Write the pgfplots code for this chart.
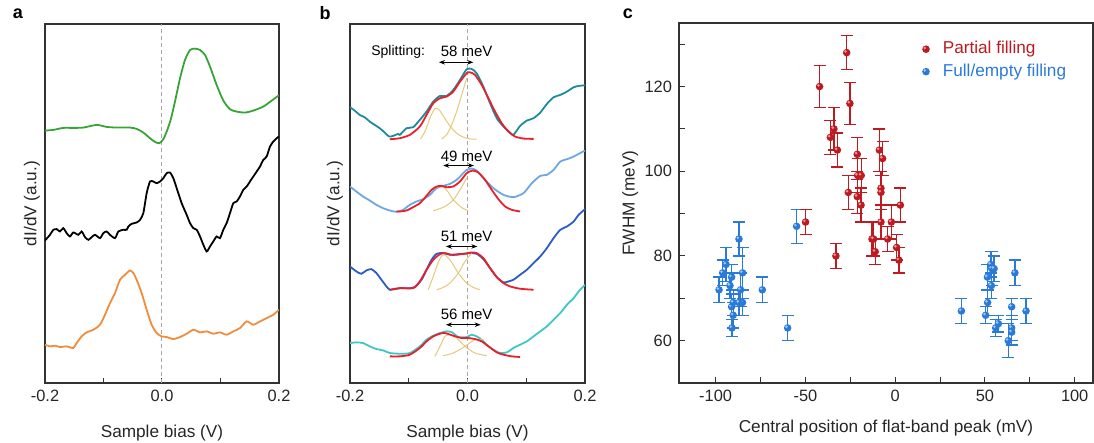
\documentclass[border=0pt]{standalone}
\usepackage{fontspec}
\setmainfont{Liberation Sans}
\usepackage{pgfplots}
\pgfplotsset{compat=1.18}
\usetikzlibrary{arrows.meta}

\definecolor{cgreen}{HTML}{36A536}
\definecolor{corange}{HTML}{F08C3C}
\definecolor{cteal}{HTML}{1C8C98}
\definecolor{clblue}{HTML}{6EA8E2}
\definecolor{cdblue}{HTML}{2A5CC6}
\definecolor{cturq}{HTML}{3EC8C4}
\definecolor{cfit}{HTML}{E8202C}
\definecolor{cgauss}{HTML}{E6C87A}
\definecolor{cpart}{HTML}{BE1A20}
\definecolor{cfull}{HTML}{2A7AD8}

% filled dot with a small light spot, like a shaded sphere
\pgfdeclareplotmark{sph}{%
  \pgfpathcircle{\pgfpointorigin}{\pgfplotmarksize}\pgfusepath{fill}%
  \begin{pgfscope}
    \pgfsetfillcolor{white}\pgfsetfillopacity{0.55}%
    \pgfpathcircle{\pgfpoint{-0.32\pgfplotmarksize}{0.32\pgfplotmarksize}}{0.38\pgfplotmarksize}%
    \pgfusepath{fill}%
  \end{pgfscope}
}

\pgfplotsset{
  frame/.style={
    scale only axis,
    tick align=inside,
    tick style={black!80, line width=0.5pt},
    axis line style={black!80, line width=0.6pt},
    every tick label/.append style={font=\fontsize{8.2}{9}\selectfont, text=black!85},
    label style={font=\fontsize{8.6}{10}\selectfont, text=black!85},
  },
  spec/.style={
    frame, width=117pt, height=179.5pt,
    xmin=-0.2, xmax=0.2, ymin=0, ymax=1078,
    xtick={-0.2,-0.1,0,0.1,0.2}, xticklabels={-0.2,,0.0,,0.2},
    ytick=\empty, xtick pos=left, major tick length=2.5pt,
    xlabel={Sample bias (V)},
    xlabel style={at={(axis description cs:0.5,0)}, anchor=center, yshift=-25pt},
    ylabel={dI/dV (a.u.)},
  },
  curve/.style={line width=0.9pt, smooth, tension=0.4, no marks},
  gauss/.style={line width=0.5pt, cgauss, smooth, no marks},
  zero/.style={gray!70, dashed, dash pattern=on 2pt off 1.5pt, line width=0.5pt, no marks},
  dots/.style={only marks, mark=sph, mark size=1.9pt, mark options={fill=#1, draw=none}, forget plot,
    error bars/.cd, y dir=both, y explicit,
    error bar style={#1, line width=0.7pt},
    error mark options={rotate=90, mark size=3pt, #1, line width=0.7pt}},
  keyimg/.style={only marks, mark=sph, mark size=1.9pt, mark options={fill=#1, draw=none}},
}

\begin{document}
\begin{tikzpicture}
\path[use as bounding box] (0,0) rectangle (547pt,-221.5pt);

\node[font=\bfseries\fontsize{9}{9}\selectfont] at (9pt,-7pt) {a};
\node[font=\bfseries\fontsize{9}{9}\selectfont] at (162.5pt,-6.5pt) {b};
\node[font=\bfseries\fontsize{9}{9}\selectfont] at (314pt,-7pt) {c};

% ---------- panel a ----------
\begin{axis}[spec, at={(22.5pt,-191.5pt)}, anchor=south west,
  ylabel style={at={(axis description cs:-0.056,0.5)}, anchor=center}]
\addplot[zero] coordinates {(0,0) (0,1078)};
\addplot[curve, cgreen] coordinates {
(-0.2000,758) (-0.1858,760) (-0.1687,766) (-0.1516,766) (-0.1345,767) (-0.1117,775)
(-0.0946,769) (-0.0775,767) (-0.0547,767) (-0.0433,763) (-0.0319,752) (-0.0205,735)
(-0.0120,724) (-0.0046,720) (0.0023,732) (0.0080,755) (0.0148,790) (0.0222,845)
(0.0308,915) (0.0393,970) (0.0479,1000) (0.0564,1004) (0.0650,1000) (0.0735,985)
(0.0821,950) (0.0934,895) (0.1048,848) (0.1162,822) (0.1276,815) (0.1419,812)
(0.1561,818) (0.1732,830) (0.1875,848) (0.2000,864)};
\addplot[curve, black] coordinates {
(-0.2000,428) (-0.1915,445) (-0.1858,460) (-0.1801,462) (-0.1744,455) (-0.1687,465)
(-0.1630,450) (-0.1573,440) (-0.1516,452) (-0.1430,445) (-0.1373,455) (-0.1316,438)
(-0.1259,430) (-0.1202,438) (-0.1145,445) (-0.1060,435) (-0.1003,450) (-0.0946,455)
(-0.0889,445) (-0.0803,435) (-0.0746,455) (-0.0661,460) (-0.0604,460) (-0.0575,470)
(-0.0519,478) (-0.0433,482) (-0.0376,490) (-0.0319,510) (-0.0262,570) (-0.0205,605)
(-0.0148,605) (-0.0091,600) (-0.0034,605) (0.0023,615) (0.0080,630) (0.0137,632)
(0.0194,615) (0.0251,585) (0.0336,540) (0.0422,505) (0.0479,480) (0.0536,465)
(0.0593,460) (0.0650,440) (0.0707,415) (0.0764,395) (0.0821,410) (0.0877,425)
(0.0934,440) (0.0991,435) (0.1048,460) (0.1105,480) (0.1162,510) (0.1219,540)
(0.1276,545) (0.1333,560) (0.1390,580) (0.1447,590) (0.1504,605) (0.1561,620)
(0.1618,635) (0.1675,650) (0.1732,670) (0.1789,680) (0.1846,710) (0.1903,725)
(0.1960,735) (0.2000,740)};
\addplot[curve, corange] coordinates {
(-0.2000,115) (-0.1915,110) (-0.1829,112) (-0.1744,108) (-0.1630,110) (-0.1516,105)
(-0.1459,120) (-0.1373,140) (-0.1288,152) (-0.1174,160) (-0.1060,175) (-0.0974,205)
(-0.0889,240) (-0.0803,270) (-0.0718,310) (-0.0632,325) (-0.0547,338) (-0.0490,330)
(-0.0433,310) (-0.0348,270) (-0.0262,220) (-0.0177,175) (-0.0091,150) (-0.0006,140)
(0.0080,138) (0.0194,132) (0.0308,138) (0.0422,148) (0.0536,160) (0.0650,152)
(0.0764,155) (0.0877,148) (0.0991,152) (0.1105,145) (0.1219,155) (0.1333,165)
(0.1447,185) (0.1561,175) (0.1675,185) (0.1789,195) (0.1903,205) (0.2000,220)};
\end{axis}

% ---------- panel b ----------
\begin{axis}[spec, width=117.5pt, at={(175pt,-191.5pt)}, anchor=south west,
  ylabel style={at={(axis description cs:-0.064,0.5)}, anchor=center}]
\addplot[zero] coordinates {(0,0) (0,1078)};
% group 1
\addplot[curve, cteal] coordinates {
(-0.2000,828) (-0.1920,818) (-0.1835,805) (-0.1750,798) (-0.1664,785) (-0.1579,775)
(-0.1494,765) (-0.1408,752) (-0.1334,740) (-0.1266,742) (-0.1181,748) (-0.1152,745)
(-0.1038,765) (-0.0925,768) (-0.0811,790) (-0.0697,815) (-0.0583,845) (-0.0469,862)
(-0.0356,862) (-0.0242,880) (-0.0128,910) (-0.0014,942) (0.0071,943) (0.0156,930)
(0.0270,890) (0.0384,840) (0.0498,795) (0.0612,770) (0.0725,752) (0.0782,745)
(0.0896,772) (0.1010,788) (0.1124,795) (0.1238,812) (0.1351,838) (0.1465,858)
(0.1579,865) (0.1693,875) (0.1807,888) (0.1892,892) (0.2000,894)};
\addplot[gauss] coordinates {
(-0.0799,733) (-0.0725,755) (-0.0640,795) (-0.0583,817) (-0.0538,825) (-0.0481,820)
(-0.0413,802) (-0.0299,772) (-0.0185,750) (-0.0071,738) (0.0043,733) (0.0156,732)};
\addplot[gauss] coordinates {
(-0.0441,733) (-0.0356,745) (-0.0270,775) (-0.0185,815) (-0.0100,865) (-0.0014,915)};
\addplot[curve, cfit] coordinates {
(-0.1323,732) (-0.1152,735) (-0.0982,745) (-0.0811,770) (-0.0697,805) (-0.0583,840)
(-0.0469,855) (-0.0356,860) (-0.0242,875) (-0.0128,905) (-0.0014,930) (0.0043,933)
(0.0128,925) (0.0242,895) (0.0356,855) (0.0469,815) (0.0583,780) (0.0697,755)
(0.0811,740) (0.0953,734) (0.1124,733)};
% group 2
\addplot[curve, clblue] coordinates {
(-0.2000,590) (-0.1892,575) (-0.1778,560) (-0.1664,548) (-0.1550,535) (-0.1437,525)
(-0.1323,518) (-0.1209,514) (-0.1095,520) (-0.0982,535) (-0.0868,545) (-0.0754,552)
(-0.0640,565) (-0.0526,585) (-0.0413,592) (-0.0299,598) (-0.0185,610) (-0.0100,625)
(-0.0014,640) (0.0071,644) (0.0156,638) (0.0270,615) (0.0441,585) (0.0612,565)
(0.0782,558) (0.0953,570) (0.1095,600) (0.1238,622) (0.1351,625) (0.1465,640)
(0.1579,665) (0.1693,672) (0.1807,680) (0.1892,688) (0.2000,698)};
\addplot[gauss] coordinates {
(-0.0612,578) (-0.0526,588) (-0.0441,590) (-0.0356,580) (-0.0242,550) (-0.0100,527) (0.0014,517)};
\addplot[gauss] coordinates {
(-0.0583,517) (-0.0384,530) (-0.0242,550) (-0.0128,580) (-0.0014,615)};
\addplot[curve, cfit] coordinates {
(-0.1209,515) (-0.1152,515) (-0.1038,518) (-0.0925,528) (-0.0811,540) (-0.0697,562)
(-0.0612,580) (-0.0526,590) (-0.0441,592) (-0.0356,588) (-0.0242,590) (-0.0128,605)
(-0.0014,630) (0.0088,638) (0.0185,632) (0.0299,610) (0.0413,580) (0.0526,552)
(0.0640,530) (0.0754,520) (0.0896,515)};
% group 3
\addplot[curve, cdblue] coordinates {
(-0.2000,350) (-0.1892,335) (-0.1807,328) (-0.1721,338) (-0.1636,342) (-0.1550,330)
(-0.1465,310) (-0.1380,290) (-0.1323,280) (-0.1238,282) (-0.1124,285) (-0.1010,284)
(-0.0896,288) (-0.0782,310) (-0.0697,340) (-0.0612,370) (-0.0526,388) (-0.0413,390)
(-0.0299,385) (-0.0185,385) (-0.0071,388) (0.0043,390) (0.0156,388) (0.0270,372)
(0.0384,345) (0.0498,318) (0.0612,302) (0.0697,305) (0.0782,310) (0.0896,325)
(0.1010,340) (0.1124,360) (0.1238,380) (0.1351,405) (0.1465,435) (0.1579,460)
(0.1693,470) (0.1807,485) (0.1892,505) (0.2000,522)};
\addplot[gauss] coordinates {
(-0.0669,280) (-0.0583,320) (-0.0498,362) (-0.0413,385) (-0.0299,370) (-0.0156,330)
(-0.0014,300) (0.0100,287) (0.0213,280)};
\addplot[gauss] coordinates {
(-0.0526,280) (-0.0413,287) (-0.0299,300) (-0.0156,330) (-0.0043,365) (0.0071,390)};
\addplot[curve, cfit] coordinates {
(-0.1323,280) (-0.1152,285) (-0.0925,285) (-0.0811,305) (-0.0697,340) (-0.0583,370)
(-0.0469,387) (-0.0384,390) (-0.0270,385) (-0.0156,387) (-0.0043,388) (0.0071,392)
(0.0156,390) (0.0270,375) (0.0384,345) (0.0498,318) (0.0612,300) (0.0725,290)
(0.0896,283) (0.1124,280)};
% group 4
\addplot[curve, cturq] coordinates {
(-0.2000,120) (-0.1892,122) (-0.1778,120) (-0.1664,110) (-0.1550,102) (-0.1437,98)
(-0.1323,90) (-0.1152,88) (-0.0982,90) (-0.0811,110) (-0.0697,130) (-0.0583,142)
(-0.0469,150) (-0.0356,155) (-0.0270,153) (-0.0156,138) (-0.0014,138) (0.0071,145)
(0.0156,140) (0.0242,130) (0.0327,115) (0.0441,100) (0.0555,90) (0.0669,92)
(0.0782,105) (0.0896,115) (0.1010,125) (0.1124,140) (0.1238,155) (0.1351,170)
(0.1465,190) (0.1579,210) (0.1693,235) (0.1807,255) (0.1892,275) (0.2000,295)};
\addplot[gauss] coordinates {
(-0.0555,80) (-0.0469,110) (-0.0384,140) (-0.0299,145) (-0.0185,135) (-0.0043,110)
(0.0128,90) (0.0327,82)};
\addplot[gauss] coordinates {
(-0.0413,82) (-0.0242,90) (-0.0043,110) (0.0128,130) (0.0270,130)};
\addplot[curve, cfit] coordinates {
(-0.1323,80) (-0.1152,80) (-0.0982,85) (-0.0811,105) (-0.0697,125) (-0.0583,140)
(-0.0469,148) (-0.0384,150) (-0.0242,142) (-0.0100,135) (0.0014,135) (0.0128,132)
(0.0242,125) (0.0356,110) (0.0498,92) (0.0612,85) (0.0754,80) (0.0896,78)};
% annotations
\node[font=\fontsize{7}{8}\selectfont] at (axis cs:-0.118,995) {Splitting:};
\node[font=\fontsize{7.5}{8}\selectfont] at (axis cs:-0.0014,995) {58 meV};
\draw[{Stealth[length=3pt]}-{Stealth[length=3pt]}, line width=0.6pt] (axis cs:-0.0486,963) -- (axis cs:0.0099,963);
\node[font=\fontsize{7.5}{8}\selectfont] at (axis cs:-0.0014,682) {49 meV};
\draw[{Stealth[length=3pt]}-{Stealth[length=3pt]}, line width=0.6pt] (axis cs:-0.0413,653) -- (axis cs:0.0110,653);
\node[font=\fontsize{7.5}{8}\selectfont] at (axis cs:-0.0014,440) {51 meV};
\draw[{Stealth[length=3pt]}-{Stealth[length=3pt]}, line width=0.6pt] (axis cs:-0.0367,410) -- (axis cs:0.0168,410);
\node[font=\fontsize{7.5}{8}\selectfont] at (axis cs:-0.0014,205) {56 meV};
\draw[{Stealth[length=3pt]}-{Stealth[length=3pt]}, line width=0.6pt] (axis cs:-0.0367,175) -- (axis cs:0.0225,175);
\end{axis}

% ---------- panel c ----------
\begin{axis}[frame, width=207pt, height=180pt, at={(339.5pt,-191.5pt)}, anchor=south west,
  xmin=-120.4, xmax=110.2, ymin=50, ymax=135,
  xtick={-100,-75,...,100}, xticklabels={-100,,-50,,0,,50,,100},
  ytick={60,70,...,130}, yticklabels={60,,80,,100,,120,},
  xtick pos=left, ytick pos=left, major tick length=3pt,
  xlabel={Central position of flat-band peak (mV)},
  xlabel style={at={(axis description cs:0.5,0)}, anchor=center, yshift=-22.5pt},
  ylabel={FWHM (meV)},
  ylabel style={at={(axis description cs:-0.118,0.5)}, anchor=center},
  legend style={at={(0.572,0.972)}, anchor=north west, draw=none, fill=none,
    font=\fontsize{8.6}{9}\selectfont, row sep=-0.5pt},
  legend cell align=left]
\addlegendimage{keyimg=cpart}
\addlegendentry{\hspace{4.5pt}\textcolor{cpart}{Partial filling}}
\addlegendimage{keyimg=cfull}
\addlegendentry{\hspace{4.5pt}\textcolor{cfull}{Full/empty filling}}
\addplot[dots=cfull] coordinates {
(-54.9,87) +- (0,4) (-59.9,63) +- (0,3) (-74,72) +- (0,3) (-98.1,72) +- (0,3)
(-96.1,76) +- (0,3) (-94.2,78) +- (0,4) (-91.1,75) +- (0,3) (-92,73) +- (0,3)
(-91.1,68) +- (0,3) (-90.2,69) +- (0,3) (-90.2,66) +- (0,3) (-90.9,63) +- (0,2)
(-87,84) +- (0,4) (-85,76) +- (0,6) (-86.1,72) +- (0,4) (-85,69) +- (0,3)
(-87,69) +- (0,3) (36.9,67) +- (0,3) (50.4,66) +- (0,2) (51.5,69) +- (0,3)
(51.4,75) +- (0,3) (53.2,78) +- (0,3) (53.8,77) +- (0,4) (55.1,77) +- (0,3)
(53.6,73) +- (0,3) (56,63) +- (0,2) (57.5,64) +- (0,2) (64.9,68) +- (0,2)
(64.9,63) +- (0,3) (64.9,62) +- (0,3) (63,60) +- (0,4) (66.7,76) +- (0,3)
(72.9,67) +- (0,3)};
\addplot[dots=cpart] coordinates {
(-42.1,120) +- (0,5) (-27,128) +- (0,4) (-25.2,116) +- (0,5) (-36.1,108) +- (0,4)
(-34.1,110) +- (0,5) (-32.2,105) +- (0,4) (-21.1,104) +- (0,4) (-20.9,99) +- (0,4)
(-18.9,99) +- (0,4) (-26.1,95) +- (0,4) (-21.1,94) +- (0,4) (-19,92) +- (0,4)
(-8.8,105) +- (0,5) (-7,103) +- (0,4) (-7.9,96) +- (0,4) (-7.9,95) +- (0,4)
(-7.9,88) +- (0,4) (-2.1,88) +- (0,4) (2.9,92) +- (0,4) (-12.9,84) +- (0,4)
(-12,84) +- (0,4) (-11.1,81) +- (0,3) (-4.2,84) +- (0,3) (0.8,82) +- (0,3)
(2.1,79) +- (0,3) (-49.9,88) +- (0,3) (-33,80) +- (0,3)};
\end{axis}
\end{tikzpicture}
\end{document}
